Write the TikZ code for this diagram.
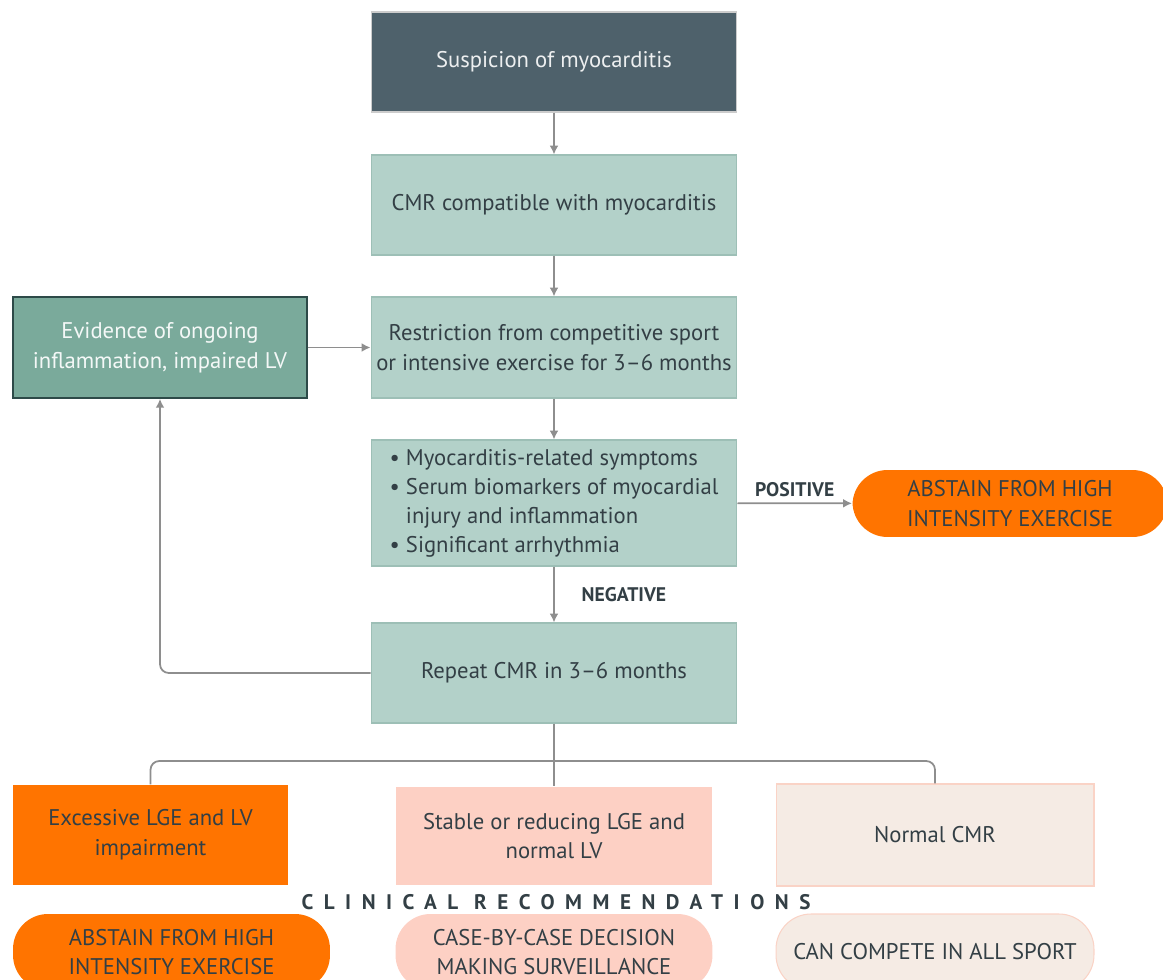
\documentclass[tikz,border=0pt]{standalone}
\usepackage{fontspec}
\setmainfont{PT Sans}
\usetikzlibrary{arrows.meta,positioning}

\definecolor{slate}{HTML}{4E616B}
\definecolor{tealfill}{HTML}{B3D1C9}
\definecolor{tealedge}{HTML}{9DBFB6}
\definecolor{sage}{HTML}{7AAA9B}
\definecolor{sageedge}{HTML}{2D4A48}
\definecolor{flame}{HTML}{FF7400}
\definecolor{blush}{HTML}{FDD0C4}
\definecolor{cream}{HTML}{F5EBE4}
\definecolor{creamedge}{HTML}{FAD3C6}
\definecolor{ink}{HTML}{333F45}
\definecolor{linkgray}{HTML}{8E8E8E}

\tikzset{
  box/.style={draw=tealedge, fill=tealfill, line width=0.6pt, minimum width=7.32cm,
    minimum height=2cm, inner sep=2pt, align=center, text=ink, font=\fontsize{12.9}{17}\selectfont},
  pill/.style={box, draw=none, rounded corners=0.7cm, minimum height=1.4cm},
  link/.style={draw=linkgray, line width=1pt, -{Latex[length=5pt,width=5pt]}},
  branch/.style={draw=linkgray, line width=1pt, rounded corners=5pt},
  tag/.style={font=\fontsize{11.2}{12}\selectfont\bfseries, text=ink}
}

\begin{document}
\begin{tikzpicture}[x=0.02cm, y=-0.02cm]
  \useasboundingbox (0,0) rectangle (1163,980);
  \clip (0,0) rectangle (1163,980);

  % main column
  \node[box, fill=slate, draw=gray!40, text=white!90!slate] (suspect) at (554,62) {Suspicion of myocarditis};
  \node[box] (cmr) at (554,205) {CMR compatible with myocarditis};
  \node[box, minimum height=2.02cm] (restrict) at (554,347.5)
    {Restriction from competitive sport\\or intensive exercise for 3--6 months};
  \node[box, fill=sage, draw=sageedge, line width=1pt, minimum width=5.88cm, minimum height=2.02cm,
    text=white!92!sage] (ongoing) at (160,347.5) {Evidence of ongoing\\inflammation, impaired LV};
  \node[box, minimum height=2.52cm, inner sep=0pt] (signs) at (554,503)
    {\renewcommand{\arraystretch}{0.97}\begin{tabular}{@{}l@{\hspace{3.5pt}}l@{}}
      \textbullet & Myocarditis-related symptoms\\
      \textbullet & Serum biomarkers of myocardial\\
                  & injury and inflammation\\
      \textbullet & Significant arrhythmia
    \end{tabular}};
  \node[box] (repeat) at (554,673) {Repeat CMR in 3--6 months};
  \node[pill, fill=flame, minimum width=6.3cm, minimum height=1.34cm] (abstainA) at (1010,503.5)
    {ABSTAIN FROM HIGH\\INTENSITY EXERCISE};

  % outcomes
  \node[box, fill=flame, draw=none, minimum width=5.5cm] (excess) at (150.5,835) {Excessive LGE and LV\\impairment};
  \node[box, fill=blush, draw=none, minimum width=6.34cm, minimum height=1.96cm] (stable) at (554,836)
    {Stable or reducing LGE and\\normal LV};
  \node[box, fill=cream, draw=creamedge, minimum width=6.36cm, minimum height=2.04cm] (normal) at (935,835) {Normal CMR};

  \node[font=\fontsize{12}{13}\selectfont\bfseries\addfontfeature{LetterSpace=50}, text=ink] (clinical) at (556,902)
    {CLINICAL RECOMMENDATIONS};

  \node[pill, fill=flame, minimum width=6.34cm, minimum height=1.52cm] (recA) at (171.5,952)
    {ABSTAIN FROM HIGH\\INTENSITY EXERCISE};
  \node[pill, fill=blush, minimum width=6.34cm, minimum height=1.52cm] (recB) at (554,952)
    {CASE-BY-CASE DECISION\\MAKING SURVEILLANCE};
  \node[pill, fill=cream, draw=creamedge, minimum width=6.36cm, minimum height=1.52cm] (recC) at (935,952)
    {CAN COMPETE IN ALL SPORT};

  % connectors
  \draw[link] (suspect) -- (cmr);
  \draw[link] (cmr) -- (restrict);
  \draw[link] (restrict) -- (signs);
  \draw[link] (signs) -- node[tag, midway, right=0.42cm] {NEGATIVE} (repeat);
  \draw[link] (signs) -- node[tag, midway, above] {POSITIVE} (abstainA);
  \draw[link] (ongoing) -- (restrict);
  \draw[link, rounded corners=5pt] (repeat.west) -| (ongoing.south);

  \coordinate (fork) at (554,761);
  \draw[branch] (repeat.south) -- (stable.north);
  \draw[branch] (excess.north) |- (fork) -| (normal.north);
\end{tikzpicture}
\end{document}
